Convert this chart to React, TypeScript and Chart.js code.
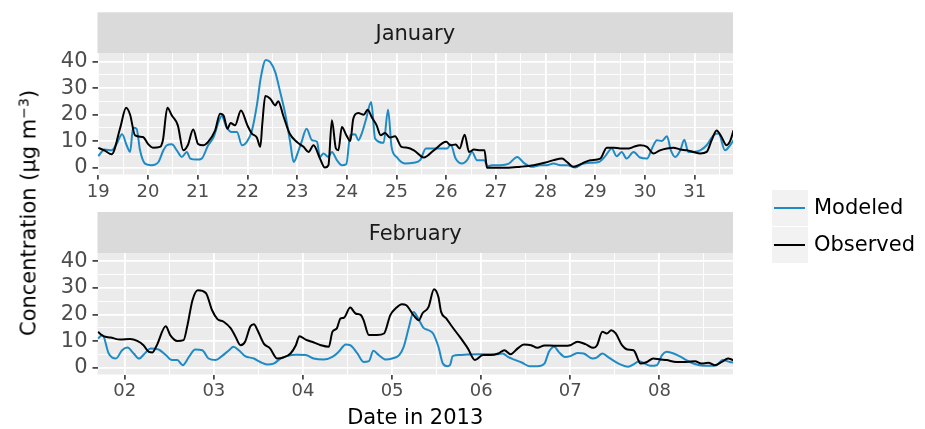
import React, { useEffect, useRef } from "react";
import { Chart, registerables } from "chart.js";

Chart.register(...registerables);

// ---------- data ----------
const janTickDays = [19, 20, 21, 22, 23, 24, 25, 26, 27, 28, 29, 30, 31];
const janTickLabels = ["19", "20", "21", "22", "23", "24", "25", "26", "27", "28", "29", "30", "31"];
const febTickDays = [2, 3, 4, 5, 6, 7, 8];
const febTickLabels = ["02", "03", "04", "05", "06", "07", "08"];
const yMajorTicks = [0, 10, 20, 30, 40];
const yMinorTicks = [5, 15, 25, 35];
const yTickLabels = ["0", "10", "20", "30", "40"];

const janObservedDays = [
  19.0, 19.13, 19.27, 19.44, 19.56, 19.64, 19.74, 19.9, 20.0, 20.1, 20.24, 20.3, 20.39, 20.48, 20.6, 20.71, 20.8,
  20.91, 21.01, 21.11, 21.21, 21.35, 21.45, 21.52, 21.6, 21.66, 21.75, 21.87, 22.0, 22.09, 22.19, 22.26, 22.3,
  22.36, 22.46, 22.56, 22.62, 22.72, 22.85, 22.99, 23.13, 23.23, 23.33, 23.46, 23.56, 23.63, 23.7, 23.78, 23.83,
  23.9, 23.99, 24.07, 24.13, 24.23, 24.34, 24.42, 24.5, 24.6, 24.68, 24.77, 24.87, 24.97, 25.1, 25.22, 25.35,
  25.55, 25.75, 26.0, 26.09, 26.19, 26.27, 26.37, 26.46, 26.56, 26.69, 26.77, 26.82, 26.99, 27.22, 27.49, 27.76,
  28.0, 28.16, 28.33, 28.43, 28.56, 28.73, 28.9, 29.1, 29.23, 29.37, 29.5, 29.67, 29.77, 29.9, 30.04, 30.17, 30.3,
  30.44, 30.57, 30.71, 30.84, 30.97, 31.11, 31.24, 31.34, 31.44, 31.54, 31.64, 31.72, 31.78,
];
const janObserved = [
  7.5, 6.5, 5.1, 15, 22.6, 20, 12.2, 11.6, 9, 7.6, 7.9, 10.4, 22.6, 19.7, 16, 6.6, 8.5,
  14.4, 8.9, 8.5, 9.8, 14, 20.4, 19.7, 14.7, 16.9, 16, 21.6, 16, 12.9, 11.4, 7.9, 16.6,
  27, 26, 23.5, 25.1, 19.7, 12.9, 9.8, 7.9, 6, 8.5, 3.5, 0.1, 1, 17.9, 7.3, 6.6,
  15.4, 12.3, 10.1, 18.5, 20.6, 20, 21.9, 19.1, 16, 12.3, 13.1, 11.4, 11.9, 7.9, 7.6, 6.6,
  3.9, 6.6, 9.8, 8.5, 8.8, 7.3, 12.5, 6, 6.9, 6.6, 6.6, 0, 0, 0, 0.4, 1,
  2, 2.9, 3.5, 2.2, 0.4, 1.6, 2.9, 3.5, 7.6, 7.6, 7.3, 7.3, 7.9, 8.5, 7.9, 5.4, 6.6,
  7.3, 7.6, 6.9, 6.6, 6, 5.4, 6, 10.4, 14.1, 11.6, 8.5, 10.4, 14.1,
];

const janModeledDays = [
  19.0, 19.13, 19.27, 19.37, 19.48, 19.57, 19.64, 19.7, 19.77, 19.84, 19.94, 20.07, 20.21, 20.31, 20.38, 20.48,
  20.58, 20.68, 20.78, 20.85, 20.98, 21.08, 21.21, 21.32, 21.42, 21.48, 21.58, 21.68, 21.79, 21.89, 21.99, 22.09,
  22.19, 22.27, 22.37, 22.46, 22.56, 22.66, 22.76, 22.86, 22.93, 23.03, 23.09, 23.19, 23.3, 23.4, 23.46, 23.53,
  23.63, 23.7, 23.8, 23.9, 23.99, 24.07, 24.17, 24.23, 24.3, 24.39, 24.49, 24.57, 24.74, 24.83, 24.9, 25.0,
  25.17, 25.34, 25.48, 25.59, 25.75, 26.02, 26.09, 26.19, 26.32, 26.42, 26.52, 26.62, 26.76, 26.84, 26.92, 27.09,
  27.26, 27.43, 27.56, 27.73, 27.89, 28.02, 28.16, 28.3, 28.43, 28.6, 28.73, 28.9, 29.07, 29.2, 29.33, 29.43,
  29.53, 29.63, 29.77, 29.9, 30.04, 30.14, 30.24, 30.34, 30.44, 30.52, 30.61, 30.71, 30.79, 30.87, 30.97, 31.11,
  31.24, 31.38, 31.48, 31.61, 31.71, 31.78,
];
const janModeled = [
  4.4, 6.9, 6.6, 9.1, 12.6, 8.5, 6, 15.1, 14.7, 6.6, 1.6, 1, 2.2, 6.6, 8.5, 8.9,
  6.6, 4.1, 6, 3.5, 3.1, 3.5, 8.5, 11.6, 17.3, 19.5, 15.4, 13.5, 13.5, 8.5, 9.8, 14,
  23.5, 34, 40.6, 39.8, 36, 28.5, 20.4, 9.8, 2.2, 6.6, 9.8, 14.7, 10.4, 9.8, 4.1, 5.4,
  4.1, 6, 2.9, 1, 1.4, 12.3, 12.6, 10.4, 12.9, 18.5, 24.8, 11, 9.4, 21.9, 7.9, 4.1,
  1.6, 1.9, 3, 7.3, 7.3, 7.3, 8.8, 3.5, 1.6, 2.9, 6, 2.9, 2.9, 0.6, 1, 1,
  1.6, 4.1, 1.9, 0.4, 1, 1, 1.6, 1, 1, 0.1, 1.4, 1.9, 2.2, 4.4, 7.3, 4.4,
  6, 3.5, 6, 3.9, 3.5, 7.3, 10.4, 10.1, 11.9, 6.6, 4.1, 6.6, 10.6, 6, 6, 6.6,
  8.5, 12.3, 12.9, 6.6, 8.5, 10.4,
];

const febObservedDays = [
  1.7, 1.76, 1.84, 1.95, 2.06, 2.14, 2.21, 2.27, 2.31, 2.36, 2.46, 2.51, 2.59, 2.66, 2.7, 2.76, 2.82, 2.91, 2.98,
  3.04, 3.11, 3.19, 3.24, 3.3, 3.35, 3.41, 3.45, 3.49, 3.56, 3.63, 3.71, 3.78, 3.86, 3.92, 3.96, 4.03, 4.1, 4.2,
  4.29, 4.33, 4.38, 4.42, 4.46, 4.53, 4.59, 4.65, 4.68, 4.74, 4.83, 4.91, 4.98, 5.04, 5.11, 5.16, 5.24, 5.3, 5.34,
  5.41, 5.47, 5.52, 5.55, 5.61, 5.67, 5.76, 5.85, 5.93, 6.02, 6.11, 6.19, 6.26, 6.33, 6.41, 6.48, 6.56, 6.63, 6.71,
  6.82, 6.93, 7.0, 7.08, 7.17, 7.26, 7.3, 7.36, 7.41, 7.46, 7.51, 7.58, 7.64, 7.71, 7.79, 7.86, 7.93, 8.01, 8.08,
  8.19, 8.3, 8.4, 8.47, 8.55, 8.62, 8.7, 8.77, 8.83,
];
const febObserved = [
  13.5, 11.9, 11.4, 10.6, 10.8, 10.1, 8.5, 6, 5.8, 8.5, 15.6, 12.3, 10.1, 10.4, 15.4, 25.4, 29.1, 28.1, 21.6,
  18.3, 17.3, 14.8, 11.9, 8.5, 9.8, 15.6, 16.4, 14.1, 9.1, 7.3, 3.5, 3.9, 5.4, 8.5, 11.9, 10.6, 9.8, 8.5,
  7.9, 13.5, 14.8, 18.5, 18.8, 22.6, 20.4, 19.8, 17.9, 12.3, 12.3, 12.9, 19.8, 22.3, 23.9, 23.5, 19.8, 17.9, 20.4,
  22.9, 29.5, 26.6, 21, 18.5, 15.6, 11.6, 7.3, 2.9, 4.8, 4.8, 5.4, 6.6, 5.1, 7.3, 8.8, 8.5, 7.5, 8.4,
  8.3, 8.3, 8.5, 9.8, 8.9, 7.5, 8.5, 13.5, 12.9, 14.1, 12.9, 8.5, 6.9, 6.6, 1.6, 2.2, 3.5, 3.1, 2.9,
  2.2, 2.2, 2.5, 1.6, 1.9, 1, 2.2, 3.5, 2.9,
];

const febModeledDays = [
  1.7, 1.75, 1.82, 1.9, 1.97, 2.03, 2.1, 2.16, 2.23, 2.29, 2.38, 2.46, 2.53, 2.59, 2.65, 2.72, 2.79, 2.87, 2.94,
  3.02, 3.09, 3.17, 3.22, 3.28, 3.35, 3.45, 3.52, 3.6, 3.67, 3.75, 3.82, 3.93, 4.03, 4.12, 4.23, 4.33, 4.4, 4.48,
  4.53, 4.61, 4.68, 4.74, 4.79, 4.85, 4.93, 5.0, 5.08, 5.13, 5.19, 5.24, 5.3, 5.35, 5.41, 5.46, 5.52, 5.57, 5.62,
  5.65, 5.68, 5.76, 5.85, 5.96, 6.07, 6.19, 6.24, 6.3, 6.37, 6.46, 6.54, 6.63, 6.71, 6.76, 6.82, 6.87, 6.94, 7.0,
  7.08, 7.15, 7.25, 7.3, 7.36, 7.41, 7.49, 7.56, 7.65, 7.71, 7.77, 7.82, 7.9, 7.97, 8.03, 8.08, 8.16, 8.25, 8.34,
  8.45, 8.57, 8.64, 8.71, 8.79, 8.83,
];
const febModeled = [
  11, 12.3, 5.4, 3.5, 6.6, 7.6, 5.4, 3.5, 5.6, 7.3, 6.9, 4.8, 2.9, 2.9, 1, 4.1, 6.9, 6.6, 3.5,
  2.9, 4.4, 6.6, 7.9, 6.6, 4.4, 3.5, 2.2, 1.3, 1.6, 3.5, 4.4, 4.9, 4.8, 3.5, 3.1, 4.1, 6, 8.8,
  8.5, 5.4, 2.2, 2.5, 6.4, 4.8, 3.1, 3.5, 4.8, 7.9, 15.4, 21, 18.1, 15.1, 14.1, 12.9, 7.9, 1.6, 0.6,
  1, 4.4, 4.8, 5, 5.1, 5.1, 5.1, 5.4, 4.1, 3.1, 1.9, 0.6, 0.6, 1.6, 6, 7.9, 6, 4.1, 4.4,
  5.6, 5.4, 3.5, 3.9, 5.4, 4.4, 2.6, 1.3, 0.4, 1.3, 2.5, 1.9, 0.8, 1, 4.8, 6, 5.4, 3.9, 2.2,
  1, 0.8, 1, 2.9, 2.2, 2,
];

// ---------- styling ----------
const FONT = '"DejaVu Sans", "Liberation Sans", sans-serif';
const BLUE = "#1F8AC4";
const BLACK = "#000000";

const panelPlugin = {
  id: "ggPanel",
  beforeDraw(chart: any, _args: any, opts: any) {
    const { ctx, chartArea: a } = chart;
    ctx.save();
    ctx.fillStyle = "#EBEBEB";
    ctx.fillRect(a.left, a.top, a.right - a.left, a.bottom - a.top);
    const sh = opts.stripHeight;
    ctx.fillStyle = "#DADADA";
    ctx.fillRect(a.left, a.top - sh, a.right - a.left, sh);
    ctx.fillStyle = "#1A1A1A";
    ctx.font = `21px ${FONT}`;
    ctx.textAlign = "center";
    ctx.textBaseline = "alphabetic";
    ctx.fillText(opts.label, (a.left + a.right) / 2, a.top - sh / 2 + 7.5);
    ctx.restore();
  },
};

function toPoints(xs: number[], ys: number[]) {
  return xs.map((x, i) => ({ x, y: ys[i] }));
}

function makeConfig(p: {
  label: string;
  min: number;
  max: number;
  tickDays: number[];
  tickLabels: string[];
  obsX: number[];
  obsY: number[];
  modX: number[];
  modY: number[];
  padding: any;
  xHeight: number;
  xPad: number;
  showTitle: boolean;
}) {
  const xTicks: number[] = [];
  p.tickDays.forEach((d) => {
    xTicks.push(d);
    if (d + 0.5 < p.max) xTicks.push(d + 0.5);
  });
  if (p.tickDays[0] - 0.5 > p.min) xTicks.push(p.tickDays[0] - 0.5);
  const yTicks = [...yMajorTicks, ...yMinorTicks];
  const isMajorX = (v: number) => p.tickDays.includes(v);
  const isMajorY = (v: number) => yMajorTicks.includes(v);
  return {
    type: "line" as const,
    data: {
      datasets: [
        {
          label: "Observed",
          data: toPoints(p.obsX, p.obsY),
          borderColor: BLACK,
          borderWidth: 2,
          pointRadius: 0,
          cubicInterpolationMode: "monotone" as const,
          order: 0,
        },
        {
          label: "Modeled",
          data: toPoints(p.modX, p.modY),
          borderColor: BLUE,
          borderWidth: 2,
          pointRadius: 0,
          cubicInterpolationMode: "monotone" as const,
          order: 1,
        },
      ],
    },
    options: {
      animation: false as const,
      responsive: false,
      devicePixelRatio: 1,
      layout: { padding: p.padding },
      plugins: {
        legend: { display: false },
        tooltip: { enabled: false },
        ggPanel: { label: p.label, stripHeight: 41 },
      },
      scales: {
        x: {
          type: "linear" as const,
          min: p.min,
          max: p.max,
          afterBuildTicks: (s: any) => {
            s.ticks = xTicks.map((v) => ({ value: v }));
          },
          afterFit: (s: any) => {
            s.height = p.xHeight;
          },
          ticks: {
            autoSkip: false,
            maxRotation: 0,
            padding: p.xPad,
            color: "#4D4D4D",
            font: { family: FONT, size: 18 },
            callback: (v: any) => {
              const i = p.tickDays.indexOf(Number(v));
              return i >= 0 ? p.tickLabels[i] : "";
            },
          },
          grid: {
            color: "#FFFFFF",
            lineWidth: (c: any) => (c.tick && isMajorX(c.tick.value) ? 1.8 : 0.9),
            tickColor: (c: any) => (c.tick && isMajorX(c.tick.value) ? "#333333" : "rgba(0,0,0,0)"),
            tickLength: 5,
            tickWidth: 1.6,
          },
          border: { display: false },
          title: {
            display: p.showTitle,
            text: "Date in 2013",
            color: "#000000",
            font: { family: FONT, size: 21, lineHeight: 1 },
            padding: { top: 0, bottom: 0 },
          },
        },
        y: {
          type: "linear" as const,
          min: -2.5,
          max: 43.1,
          afterBuildTicks: (s: any) => {
            s.ticks = yTicks.map((v) => ({ value: v }));
          },
          afterFit: (s: any) => {
            s.width = 97.5;
          },
          ticks: {
            autoSkip: false,
            padding: 5,
            color: "#4D4D4D",
            font: { family: FONT, size: 21 },
            callback: (v: any) => {
              const i = yMajorTicks.indexOf(Number(v));
              return i >= 0 ? yTickLabels[i] : "";
            },
          },
          grid: {
            color: "#FFFFFF",
            lineWidth: (c: any) => (c.tick && isMajorY(c.tick.value) ? 1.8 : 0.9),
            tickColor: (c: any) => (c.tick && isMajorY(c.tick.value) ? "#333333" : "rgba(0,0,0,0)"),
            tickLength: 5,
            tickWidth: 1.6,
          },
          border: { display: false },
        },
      },
    },
    plugins: [panelPlugin],
  };
}

export default function App() {
  const janRef = useRef<HTMLCanvasElement>(null);
  const febRef = useRef<HTMLCanvasElement>(null);

  useEffect(() => {
    Chart.defaults.font.family = FONT;
    const jan = new Chart(
      janRef.current as HTMLCanvasElement,
      makeConfig({
        label: "January",
        min: 18.984,
        max: 31.77,
        tickDays: janTickDays,
        tickLabels: janTickLabels,
        obsX: janObservedDays,
        obsY: janObserved,
        modX: janModeledDays,
        modY: janModeled,
        padding: { left: 0, top: 53.3, right: 192, bottom: 5.5 },
        xHeight: 25,
        xPad: 2,
        showTitle: false,
      }) as any
    );
    const feb = new Chart(
      febRef.current as HTMLCanvasElement,
      makeConfig({
        label: "February",
        min: 1.694,
        max: 8.826,
        tickDays: febTickDays,
        tickLabels: febTickLabels,
        obsX: febObservedDays,
        obsY: febObserved,
        modX: febModeledDays,
        modY: febModeled,
        padding: { left: 0, top: 48, right: 192, bottom: 0 },
        xHeight: 54.5,
        xPad: 1,
        showTitle: true,
      }) as any
    );
    return () => {
      jan.destroy();
      feb.destroy();
    };
  }, []);

  const legendText: React.CSSProperties = {
    position: "absolute",
    left: 814,
    fontFamily: FONT,
    fontSize: 21,
    lineHeight: "21px",
    color: "#000",
    whiteSpace: "nowrap",
  };
  const keyBox: React.CSSProperties = {
    position: "absolute",
    left: 772,
    width: 36,
    height: 36,
    background: "#F2F2F2",
  };
  const keyLine = (color: string): React.CSSProperties => ({
    position: "absolute",
    left: 2,
    width: 31,
    top: 17,
    height: 2,
    background: color,
  });

  return (
    <div style={{ position: "fixed", left: 0, top: 0, width: 925, height: 429, background: "#fff", overflow: "hidden" }}>
      <canvas ref={janRef} width={925} height={205} style={{ position: "absolute", left: 0, top: 0 }} />
      <canvas ref={febRef} width={925} height={224} style={{ position: "absolute", left: 0, top: 205 }} />
      <div
        style={{
          position: "absolute",
          left: 28.5,
          top: 213,
          transform: "translate(-50%, -50%) rotate(-90deg)",
          fontFamily: FONT,
          fontSize: 21,
          lineHeight: "21px",
          color: "#000",
          whiteSpace: "nowrap",
        }}
      >
        Concentration (µg m<sup style={{ fontSize: 14, lineHeight: 0, verticalAlign: "7px" }}>−3</sup>)
      </div>
      <div style={{ ...keyBox, top: 190 }}>
        <div style={keyLine(BLUE)} />
      </div>
      <div style={{ ...keyBox, top: 227 }}>
        <div style={keyLine(BLACK)} />
      </div>
      <div style={{ ...legendText, top: 197 }}>Modeled</div>
      <div style={{ ...legendText, top: 234 }}>Observed</div>
    </div>
  );
}
